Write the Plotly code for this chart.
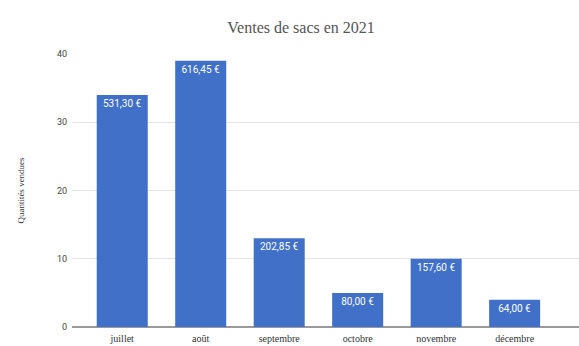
import plotly.graph_objects as go

# Monthly bag sales, second half of 2021
mois = ["juillet", "août", "septembre", "octobre", "novembre", "décembre"]
quantites = [34, 39, 13, 5, 10, 4]
chiffre_affaires = ["531,30 €", "616,45 €", "202,85 €", "80,00 €", "157,60 €", "64,00 €"]

fig = go.Figure(
    go.Bar(
        x=mois,
        y=quantites,
        text=chiffre_affaires,
        textposition="inside",
        insidetextanchor="end",
        textangle=0,
        textfont=dict(family="Roboto, Arial, sans-serif", size=10, color="white"),
        marker=dict(color="#4170c8", line=dict(width=0)),
        cliponaxis=False,
    )
)

fig.update_layout(
    width=579,
    height=346,
    margin=dict(l=72, r=0, t=54, b=19),
    paper_bgcolor="white",
    plot_bgcolor="white",
    bargap=0.35,
    showlegend=False,
    title=dict(
        text="Ventes de sacs en 2021",
        x=0.52,
        xanchor="center",
        y=0.92,
        yanchor="middle",
        font=dict(family="Liberation Serif, Times New Roman, serif", size=16, color="#555555"),
    ),
    uniformtext=dict(minsize=8, mode="show"),
)

fig.update_xaxes(
    range=[-0.64, 5.82],
    showgrid=False,
    showline=False,
    ticks="",
    tickfont=dict(family="Liberation Serif, Times New Roman, serif", size=10, color="#333333"),
    ticklabelstandoff=4,
)

fig.update_yaxes(
    range=[0, 40],
    dtick=10,
    showgrid=True,
    gridcolor="#e4e4e4",
    gridwidth=1,
    zeroline=True,
    zerolinecolor="#9a9a9a",
    zerolinewidth=1.5,
    ticks="",
    ticklabelstandoff=4,
    tickfont=dict(family="Roboto, Arial, sans-serif", size=9, color="#444444"),
    title=dict(
        text="Quantités vendues",
        font=dict(family="Liberation Serif, Times New Roman, serif", size=9, color="#333333"),
        standoff=30,
    ),
)

fig.write_html("out.html")
